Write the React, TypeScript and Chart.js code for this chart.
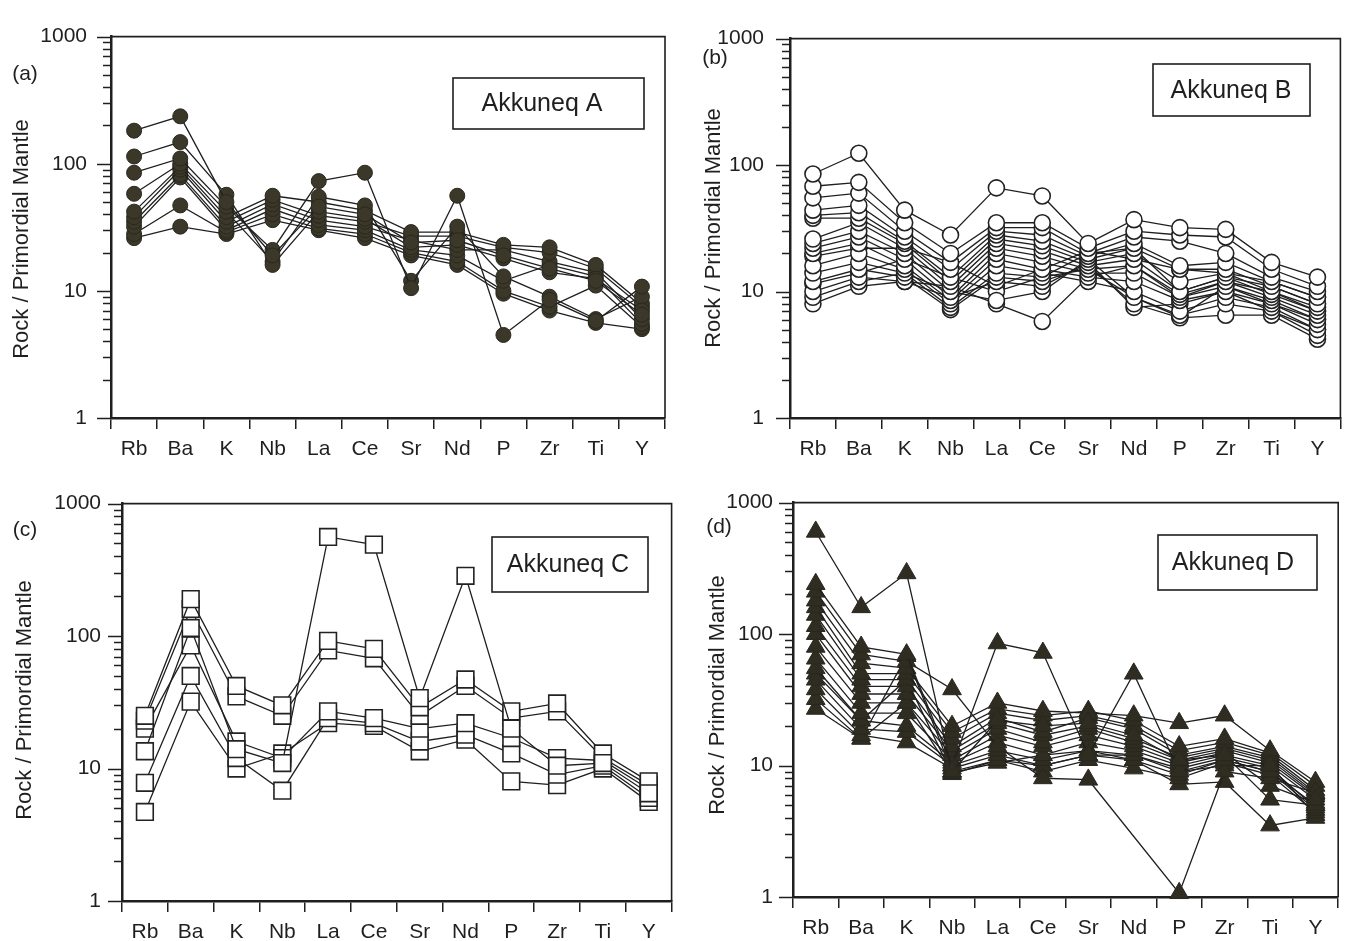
import React, { useEffect, useRef } from "react";
import { Chart, registerables } from "chart.js";
Chart.register(...registerables);

const ELEMENTS = ["Rb", "Ba", "K", "Nb", "La", "Ce", "Sr", "Nd", "P", "Zr", "Ti", "Y"];
const Y_MAJOR = [1, 10, 100, 1000];
const Y_ALL_TICKS = [
  1, 2, 3, 4, 5, 6, 7, 8, 9,
  10, 20, 30, 40, 50, 60, 70, 80, 90,
  100, 200, 300, 400, 500, 600, 700, 800, 900,
  1000,
];
const Y_TITLE = "Rock / Primordial Mantle";

// Akkuneq A (filled circles)
const PANEL_A: (number | null)[][] = [
  [182, 236, 50, 19, 46, 40, 24, 25, 19, 15, 12, 6.5],
  [114, 148, 57, 16, 42, 37, 22, 23, 18, 14, 12.5, 7],
  [85, 110, 46, 21, 73, 85, 10.5, 56, 4.5, 8.5, 5.8, 10.8],
  [58, 100, 42, 17, 55, 47, 12, 32, 13, 9, 6, 9],
  [42, 95, 38, 56, 50, 43, 29, 29, 23, 22, 16, 8],
  [38, 90, 35, 52, 39, 35, 27, 27, 22, 20, 15, 7.5],
  [35, 82, 32, 48, 36, 32, 25, 21, 21, 17, 14, 6],
  [32, 78, 30, 44, 33, 30, 21, 19, 12, 16, 13, 5.5],
  [28, 47, 29, 40, 31, 28, 20, 17, 10, 7.5, 11, 5.2],
  [26, 32, 28, 36, 30, 26, 19, 16, 9.5, 7, 5.6, 5],
];

// Akkuneq B (open circles)
const PANEL_B: (number | null)[][] = [
  [85, 124, 44, 28, 66, 57, 24, 37, 32, 31, 17, 13],
  [68, 73, 35, 20, 35, 35, 22, 30, 28, 27, 15, 11],
  [55, 60, 30, 17, 32, 32, 20, 27, 25, 20, 13, 10],
  [44, 48, 27, 15, 30, 28, 19, 24, 16, 17, 12, 9],
  [40, 42, 25, 13, 28, 25, 18, 22, 15, 15, 11, 8],
  [38, 38, 24, 12, 26, 23, 17, 20, 12, 14, 10, 7.5],
  [26, 35, 22, 11, 24, 21, 16, 18, 10, 13, 9.5, 7],
  [24, 30, 20, 10, 22, 19, 15, 16, 9.5, 12, 9, 6.5],
  [22, 27, 18, 9, 20, 17, 14, 14, 9, 11, 8.5, 6],
  [20, 24, 16, 8.5, 18, 15, 13, 12, 8.5, 10, 8, 5.5],
  [16, 20, 15, 8, 16, 14, 12, 10, 7, 9, 7.5, 5],
  [14, 17, 14, 7.5, 14, 13, 15, 9, 6.5, 8, 7, 4.5],
  [12, 15, 13, 7.2, 13, 12, 16, 8, 6.2, 6.5, 6.5, 4.2],
  [10, 13, 12, 9, 12, 11, 17, 7.5, 8, 10, 7, 5],
  [9, 12, 14, 10, 8.5, 10, 18, 9, 6.3, 11, 8, 6],
  [8, 11, 12, 11, 8, 5.8, 13, 16, 9, 12, 10, 7],
  [11.5, 14, 18, 13, 10, 13, 20, 22, 10, 13, 11, 8],
  [19, 22, 22, 17, 11, 15, 21, 18, 15, 14, 12, 9],
];

// Akkuneq C (open squares)
const PANEL_C: (number | null)[][] = [
  [13.5, 115, 14, 11, 560, 490, 34, 285, 20, 10.5, 11, 6.5],
  [25, 190, 42, 30, 92, 80, 29, 47, 27, 31, 13, 8],
  [23, 160, 35, 25, 78, 68, 25, 42, 24, 27, 12, 7.5],
  [20, 85, 16, 12, 27, 24, 20, 22, 17, 12, 11.5, 7],
  [7.8, 50, 12, 6.8, 24, 22, 16, 18, 13, 9, 10.5, 6],
  [4.7, 32, 10, 13, 22, 21, 13.5, 16.5, 8, 7.5, 10, 5.6],
];

// Akkuneq D (filled triangles)
const PANEL_D: (number | null)[][] = [
  [600, 160, 290, 9, 22, 20, 21, 17, 11, 12, 10, 5.5],
  [240, 80, 70, 10, 85, 72, 12, 50, 9, 11, 9, 5],
  [210, 70, 62, 38, 14, 8, 7.8, null, 1.07, 9, 8, 6.2],
  [180, 60, 55, 20, 30, 26, 25, 24, 21, 24, 13, 7.5],
  [160, 50, 50, 18, 27, 24, 26, 22, 14, 16, 12.5, 7],
  [140, 45, 45, 16, 25, 22, 24, 20, 13, 15, 12, 6.5],
  [115, 40, 40, 14, 23, 18, 23, 19, 12, 14, 11.5, 6.2],
  [100, 35, 35, 13, 21, 17, 20, 16, 11.5, 13.5, 11, 6],
  [80, 30, 30, 12, 19, 15, 19, 15, 11, 13, 10.5, 5.8],
  [65, 25, 25, 11, 17, 14, 17, 14, 10.5, 12.5, 7, 5.2],
  [55, 22, 20, 10.5, 15, 12, 15, 13, 10, 12, 5.5, 5],
  [45, 19, 18, 10, 13, 11, 13, 12, 9.5, 11.5, 9.5, 4.8],
  [38, 17, 15, 9.5, 12, 10, 12, 11, 8.5, 11, 9, 4.6],
  [32, 16, 68, 9, 11, 9, 11, 9.5, 8, 10.5, 8.5, 4.4],
  [27, 16, 30, 8.8, 10.5, 12, 13, 11, 7.2, 7.5, 3.5, 4],
  [50, 22, 45, 8.6, 11, 10, 12, 12, 9, 10, 10, 4.2],
];

const INK = "#1f1f1f";
const FONT = '"Liberation Sans", Arial, Helvetica, sans-serif';

type PanelCfg = {
  left: number;
  top: number;
  width: number;
  height: number;
  area: { left: number; top: number; right: number; bottom: number };
  rows: (number | null)[][];
  marker: { style: string; radius: number; fill: string; stroke: string; bw: number };
  yPad: number;
  xPad: number;
  letter: string;
  letterX: number;
  letterY: number;
  titleX: number;
  titleY: number;
  boxX: number;
  boxY: number;
  boxW: number;
  boxH: number;
  boxTextX: number;
  boxText: string;
};

const PANELS: PanelCfg[] = [
  {
    left: 0, top: 0, width: 675, height: 470,
    area: { left: 111, top: 20, right: 665, bottom: 418 },
    rows: PANEL_A,
    marker: { style: "circle", radius: 7.5, fill: "#3b3829", stroke: "#2a281e", bw: 1 },
    yPad: 24, xPad: 8,
    letter: "(a)", letterX: 25, letterY: 74,
    titleX: 22, titleY: 239,
    boxX: 453, boxY: 78, boxW: 191, boxH: 51, boxTextX: 542, boxText: "Akkuneq A",
  },
  {
    left: 675, top: 0, width: 675, height: 470,
    area: { left: 115, top: 20, right: 667, bottom: 418 },
    rows: PANEL_B,
    marker: { style: "circle", radius: 8, fill: "#ffffff", stroke: "#222222", bw: 1.6 },
    yPad: 26, xPad: 8,
    letter: "(b)", letterX: 40, letterY: 58,
    titleX: 39, titleY: 228,
    boxX: 478, boxY: 64, boxW: 157, boxH: 52, boxTextX: 556, boxText: "Akkuneq B",
  },
  {
    left: 0, top: 470, width: 685, height: 471,
    area: { left: 122, top: 33, right: 676, bottom: 431 },
    rows: PANEL_C,
    marker: { style: "rect", radius: 11.8, fill: "#ffffff", stroke: "#222222", bw: 1.6 },
    yPad: 21, xPad: 8,
    letter: "(c)", letterX: 25, letterY: 60,
    titleX: 25, titleY: 230,
    boxX: 492, boxY: 67, boxW: 156, boxH: 55, boxTextX: 568, boxText: "Akkuneq C",
  },
  {
    left: 685, top: 470, width: 665, height: 471,
    area: { left: 108, top: 28, right: 662, bottom: 427 },
    rows: PANEL_D,
    marker: { style: "triangle", radius: 10.8, fill: "#2f2c22", stroke: "#2a281e", bw: 1 },
    yPad: 20, xPad: 8,
    letter: "(d)", letterX: 34, letterY: 57,
    titleX: 33, titleY: 225,
    boxX: 473, boxY: 65, boxW: 159, boxH: 55, boxTextX: 548, boxText: "Akkuneq D",
  },
];

const decor = {
  id: "decor",
  afterDraw(chart: any, _args: any, o: any) {
    const { ctx, chartArea: ca } = chart;
    const y = chart.scales.y;
    ctx.save();
    ctx.strokeStyle = INK;
    ctx.lineWidth = 1.6;
    ctx.beginPath();
    ctx.moveTo(ca.left, ca.top);
    ctx.lineTo(ca.right, ca.top);
    ctx.lineTo(ca.right, ca.bottom);
    ctx.stroke();
    ctx.lineWidth = 1.5;
    for (const t of y.ticks) {
      const py = Math.round(y.getPixelForValue(t.value)) + 0.5;
      const len = Y_MAJOR.includes(t.value) ? 14 : 8;
      ctx.beginPath();
      ctx.moveTo(ca.left - len, py);
      ctx.lineTo(ca.left, py);
      ctx.stroke();
    }
    ctx.fillStyle = INK;
    ctx.textAlign = "center";
    ctx.textBaseline = "middle";
    ctx.font = `21px ${FONT}`;
    ctx.fillText(o.letter, o.letterX, o.letterY);
    ctx.save();
    ctx.translate(o.titleX, o.titleY);
    ctx.rotate(-Math.PI / 2);
    ctx.font = `22px ${FONT}`;
    ctx.fillText(Y_TITLE, 0, 0);
    ctx.restore();
    ctx.fillStyle = "#ffffff";
    ctx.fillRect(o.boxX, o.boxY, o.boxW, o.boxH);
    ctx.lineWidth = 1.6;
    ctx.strokeRect(o.boxX, o.boxY, o.boxW, o.boxH);
    ctx.fillStyle = INK;
    ctx.font = `25px ${FONT}`;
    ctx.fillText(o.boxText, o.boxTextX, o.boxY + o.boxH / 2 + 1);
    ctx.restore();
  },
};

function Panel({ cfg }: { cfg: PanelCfg }) {
  const ref = useRef<HTMLCanvasElement | null>(null);
  useEffect(() => {
    const canvas = ref.current;
    if (!canvas) return;
    const { area, marker } = cfg;
    const chart = new Chart(canvas, {
      type: "line",
      data: {
        labels: ELEMENTS,
        datasets: cfg.rows.map((row) => ({
          data: row,
          borderColor: INK,
          borderWidth: 1.3,
          tension: 0,
          spanGaps: true,
          clip: false as any,
          pointStyle: marker.style as any,
          pointRadius: marker.radius,
          pointBackgroundColor: marker.fill,
          pointBorderColor: marker.stroke,
          pointBorderWidth: marker.bw,
        })),
      },
      options: {
        animation: false,
        responsive: false,
        devicePixelRatio: 1,
        layout: {
          padding: { left: 0, top: area.top, right: cfg.width - area.right, bottom: 0 },
        },
        plugins: {
          legend: { display: false },
          tooltip: { enabled: false },
          decor: {
            letter: cfg.letter, letterX: cfg.letterX, letterY: cfg.letterY,
            titleX: cfg.titleX, titleY: cfg.titleY,
            boxX: cfg.boxX, boxY: cfg.boxY, boxW: cfg.boxW, boxH: cfg.boxH,
            boxTextX: cfg.boxTextX, boxText: cfg.boxText,
          },
        } as any,
        scales: {
          x: {
            type: "category",
            offset: true,
            afterFit: (s: any) => {
              s.height = cfg.height - area.bottom;
            },
            grid: {
              display: true,
              drawOnChartArea: false,
              drawTicks: true,
              tickLength: 11,
              color: INK,
              lineWidth: 1.5,
              offset: true,
            },
            border: { display: true, color: INK, width: 2.5 },
            ticks: {
              padding: cfg.xPad,
              color: INK,
              font: { family: FONT, size: 21 },
              autoSkip: false,
              maxRotation: 0,
            },
          },
          y: {
            type: "logarithmic",
            min: 1,
            max: 1000,
            afterBuildTicks: (s: any) => {
              s.ticks = Y_ALL_TICKS.map((v) => ({ value: v, major: Y_MAJOR.includes(v) }));
            },
            afterFit: (s: any) => {
              s.width = area.left;
            },
            grid: { display: false, drawTicks: false },
            border: { display: true, color: INK, width: 2.5 },
            ticks: {
              autoSkip: false,
              padding: cfg.yPad,
              color: INK,
              font: { family: FONT, size: 21 },
              callback: (v: any) => (Y_MAJOR.includes(Number(v)) ? String(v) : ""),
            },
          },
        } as any,
      },
      plugins: [decor as any],
    });
    return () => chart.destroy();
  }, [cfg]);
  return (
    <canvas
      ref={ref}
      width={cfg.width}
      height={cfg.height}
      style={{ position: "absolute", left: cfg.left, top: cfg.top, width: cfg.width, height: cfg.height }}
    />
  );
}

export default function App() {
  return (
    <div
      style={{
        position: "absolute",
        left: 0,
        top: 0,
        width: 1350,
        height: 941,
        background: "#ffffff",
        overflow: "hidden",
      }}
    >
      {PANELS.map((p, i) => (
        <Panel key={i} cfg={p} />
      ))}
    </div>
  );
}
